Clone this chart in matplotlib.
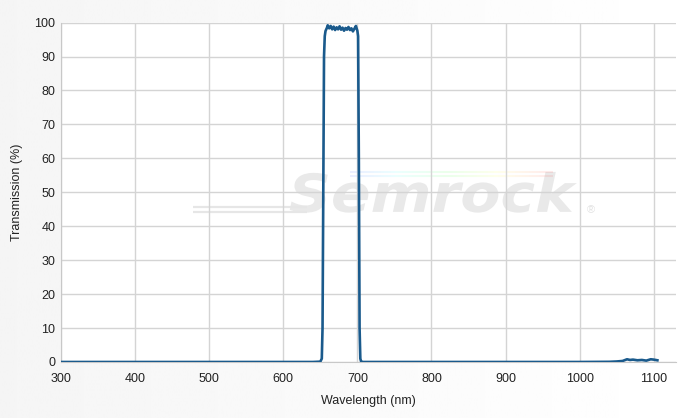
import matplotlib
matplotlib.use('Agg')
import matplotlib.pyplot as plt
import numpy as np
from matplotlib.textpath import TextPath
from matplotlib.patches import PathPatch
from matplotlib.font_manager import FontProperties
from matplotlib.collections import LineCollection
from matplotlib.transforms import Affine2D

plt.rcParams['font.family'] = ['Liberation Sans', 'DejaVu Sans']

# spectrum
wavelength = [300, 500, 640, 650, 652, 653, 654, 655, 656, 657, 658, 659, 660,
              662, 664, 666, 668, 670, 672, 674, 676, 678, 680, 682, 684, 686,
              688, 690, 692, 694, 696, 698, 700, 701, 702, 703, 704, 705, 706,
              708, 720, 800, 900, 1000, 1040, 1050, 1058, 1064, 1068, 1072,
              1078, 1084, 1090, 1096, 1100, 1105]
transmission = [0, 0, 0, 0.1, 1, 10, 50, 90, 96, 97.5, 98, 98.5, 99.2,
                98.3, 99.0, 98.0, 98.8, 97.8, 98.6, 98.0, 98.9, 97.9, 98.5, 97.6, 98.4, 97.9,
                98.7, 97.8, 98.3, 97.4, 98.2, 99.0, 97.6, 96, 60, 10, 1, 0.2, 0.05,
                0, 0, 0, 0, 0, 0.05, 0.15, 0.3, 0.8, 0.6, 0.7,
                0.5, 0.6, 0.4, 0.8, 0.7, 0.5]

x_ticks = [300, 400, 500, 600, 700, 800, 900, 1000, 1100]
y_ticks = [0, 10, 20, 30, 40, 50, 60, 70, 80, 90, 100]

fig = plt.figure(figsize=(6.84, 4.18), dpi=100)

# soft grey-to-white background
bg = fig.add_axes([0, 0, 1, 1], zorder=-10)
grad = np.linspace(0, 1, 256)[None, :]
bg.imshow(0.96 + 0.04 * grad, cmap='gray', vmin=0, vmax=1, aspect='auto',
          extent=[0, 1, 0, 1])
bg.axis('off')

ax = fig.add_axes([0.0892, 0.134, 0.899, 0.812])
ax.set_facecolor('white')
ax.set_axisbelow(True)
ax.plot(wavelength, transmission, color='#1a5a8c', lw=1.9, zorder=3)

ax.set_xlim(300, 1130)
ax.set_ylim(0, 100)
ax.set_xticks(x_ticks)
ax.set_yticks(y_ticks)
ax.grid(True, color='#d4d4d4', lw=1)
ax.tick_params(length=0, labelsize=9, colors='#222222')
ax.tick_params(axis='x', pad=8)
ax.tick_params(axis='y', pad=4)
for s in ['top', 'right']:
    ax.spines[s].set_visible(False)
for s in ['left', 'bottom']:
    ax.spines[s].set_color('#c8c8c8')

ax.set_xlabel('Wavelength (nm)', fontsize=9, color='#222222', labelpad=7)
ax.set_ylabel('Transmission (%)', fontsize=9, color='#222222', labelpad=8)

# watermark, fitted into a box in axes coordinates
fp = FontProperties(family='DejaVu Sans', weight='bold', style='italic')
tp = TextPath((0, 0), 'Semrock', size=10, prop=fp)
ext = tp.get_extents()
x0, x1, y0, y1 = 0.372, 0.839, 0.44, 0.56
tr = (Affine2D().translate(-ext.x0, -ext.y0)
      .scale((x1 - x0) / ext.width, (y1 - y0) / ext.height)
      .translate(x0, y0))
ax.add_patch(PathPatch(tr.transform_path(tp), transform=ax.transAxes,
                       facecolor='#e9e9e9', edgecolor='none', zorder=0.1))
ax.text(0.855, 0.44, '\u00ae', transform=ax.transAxes, fontsize=8,
        color='#e2e2e2', zorder=0.1)
for yy in (0.442, 0.457):
    ax.plot([0.215, 0.40], [yy, yy], transform=ax.transAxes,
            color='#e6e6e6', lw=1.6, zorder=0.1, solid_capstyle='butt')
# faint rainbow streaks above the watermark
xs = np.linspace(0.47, 0.80, 60)
cmap = plt.get_cmap('hsv')
for yy in (0.547, 0.560):
    pts = np.column_stack([xs, np.full_like(xs, yy)])
    segs = np.stack([pts[:-1], pts[1:]], axis=1)
    lc = LineCollection(segs, colors=cmap(np.linspace(0.65, 0.0, len(segs))),
                        lw=1.5, alpha=0.08, transform=ax.transAxes, zorder=0.1)
    ax.add_collection(lc)

fig.savefig('out.png', dpi=100)
